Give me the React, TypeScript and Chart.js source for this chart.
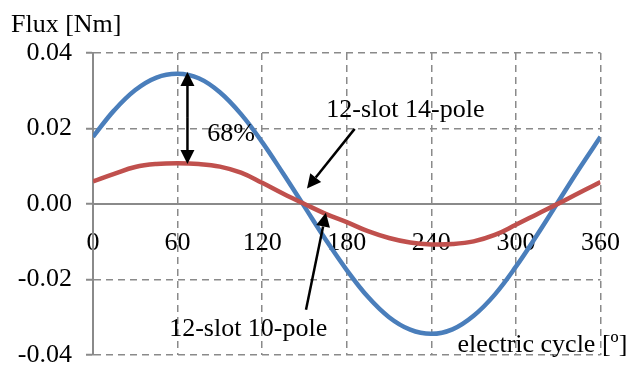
import React, { useEffect, useRef } from "react";
import { Chart, registerables } from "chart.js";

Chart.register(...registerables);

// Electrical angle samples over one electric cycle [deg]
const angles = [0, 15, 30, 45, 60, 75, 90, 105, 120, 135, 150, 165, 180, 195, 210, 225, 240, 255, 270, 285, 300, 315, 330, 345, 360];

// Flux linkage of the 12-slot 14-pole machine [Nm]
const flux14pole = [0.0178, 0.0248, 0.0302, 0.0335, 0.0345, 0.0333, 0.0296, 0.0238, 0.0164, 0.008, -0.0007, -0.0094, -0.0175, -0.0246, -0.03, -0.0333, -0.0344, -0.0332, -0.0296, -0.024, -0.0166, -0.0082, 0.0006, 0.0094, 0.0178];

// Flux linkage of the 12-slot 10-pole machine [Nm]
const flux10pole = [0.006, 0.008, 0.0098, 0.0106, 0.0108, 0.0106, 0.0099, 0.0083, 0.0056, 0.0027, 0.0, -0.0026, -0.0048, -0.0072, -0.009, -0.0102, -0.0107, -0.0106, -0.0099, -0.0082, -0.0055, -0.0027, 0.0001, 0.003, 0.0058];

const xTickStep = 60;
const yTickStep = 0.02;
const xRange = [0, 360];
const yRange = [-0.04, 0.04];

// Annotation anchors in data units: [angle, flux]
const peakArrowTop = [67, 0.035];
const peakArrowBottom = [67, 0.0106];
const peakRatioLabel = "68%";
const peakRatioPos = [81, 0.0186];
const label14 = "12-slot 14-pole";
const label14Pos = [165.5, 0.0231];
const arrow14From = [185.6, 0.0199];
const arrow14To = [151.8, 0.0041];
const label10 = "12-slot 10-pole";
const label10Pos = [54, -0.0349];
const arrow10From = [151.1, -0.028];
const arrow10To = [165.2, -0.0023];
const xAxisTitle = "electric cycle [º]";
const xAxisTitlePos = [379, -0.0391];
const yAxisTitle = "Flux [Nm]";

const BLUE = "#4a7ebb";
const RED = "#c0504d";
const GRID = "#8a8a8a";
const FONT = "'Liberation Serif', 'Times New Roman', serif";
const FONT_SIZE = 26;

function drawArrow(ctx: CanvasRenderingContext2D, x1: number, y1: number, x2: number, y2: number) {
  const headLen = 14;
  const headHalf = 7;
  const ang = Math.atan2(y2 - y1, x2 - x1);
  const bx = x2 - headLen * Math.cos(ang);
  const by = y2 - headLen * Math.sin(ang);
  ctx.beginPath();
  ctx.moveTo(x1, y1);
  ctx.lineTo(bx, by);
  ctx.stroke();
  ctx.beginPath();
  ctx.moveTo(x2, y2);
  ctx.lineTo(bx + headHalf * Math.sin(ang), by - headHalf * Math.cos(ang));
  ctx.lineTo(bx - headHalf * Math.sin(ang), by + headHalf * Math.cos(ang));
  ctx.closePath();
  ctx.fill();
}

const annotationPlugin = {
  id: "fluxAnnotations",
  afterDatasetsDraw(chart: any) {
    const { ctx, scales } = chart;
    const px = (p: number[]) => [scales.x.getPixelForValue(p[0]), scales.y.getPixelForValue(p[1])];
    ctx.save();
    ctx.strokeStyle = "#000";
    ctx.fillStyle = "#000";
    ctx.lineWidth = 2.5;

    // double-headed arrow between the two peaks
    const [tx, ty] = px(peakArrowTop);
    const [bx, by] = px(peakArrowBottom);
    const mid = (ty + by) / 2;
    drawArrow(ctx, tx, mid, tx, ty);
    drawArrow(ctx, bx, mid, bx, by);

    // callout arrows
    const a14f = px(arrow14From);
    const a14t = px(arrow14To);
    drawArrow(ctx, a14f[0], a14f[1], a14t[0], a14t[1]);
    const a10f = px(arrow10From);
    const a10t = px(arrow10To);
    drawArrow(ctx, a10f[0], a10f[1], a10t[0], a10t[1]);

    ctx.font = `${FONT_SIZE}px ${FONT}`;
    ctx.textAlign = "left";

    const pr = px(peakRatioPos);
    ctx.textBaseline = "middle";
    ctx.fillText(peakRatioLabel, pr[0], pr[1]);
    ctx.textBaseline = "alphabetic";

    const l14 = px(label14Pos);
    ctx.fillText(label14, l14[0], l14[1]);
    const l10 = px(label10Pos);
    ctx.fillText(label10, l10[0], l10[1]);

    const xt = px(xAxisTitlePos);
    ctx.textAlign = "right";
    ctx.fillText(xAxisTitle, xt[0], xt[1]);

    ctx.textAlign = "left";
    ctx.fillText(yAxisTitle, 11, 32);
    ctx.restore();
  },
};

export default function App() {
  const canvasRef = useRef<HTMLCanvasElement | null>(null);

  useEffect(() => {
    if (!canvasRef.current) return;
    const chart = new Chart(canvasRef.current, {
      type: "line",
      data: {
        labels: angles,
        datasets: [
          {
            label: label10,
            data: angles.map((a, i) => ({ x: a, y: flux10pole[i] })),
            borderColor: RED,
            borderWidth: 4.5,
            pointRadius: 0,
            tension: 0.4,
            fill: false,
          },
          {
            label: label14,
            data: angles.map((a, i) => ({ x: a, y: flux14pole[i] })),
            borderColor: BLUE,
            borderWidth: 4.5,
            pointRadius: 0,
            tension: 0.4,
            fill: false,
          },
        ],
      },
      options: {
        animation: false,
        responsive: false,
        devicePixelRatio: 1,
        layout: { padding: { top: 53, bottom: 12, left: 0, right: 41 } },
        plugins: {
          legend: { display: false },
          tooltip: { enabled: false },
        },
        scales: {
          x: {
            type: "linear",
            min: xRange[0],
            max: xRange[1],
            position: { y: 0 },
            ticks: {
              stepSize: xTickStep,
              color: "#000",
              font: { family: FONT, size: FONT_SIZE },
              padding: 24,
              maxRotation: 0,
            },
            grid: {
              color: GRID,
              lineWidth: 1.5,
              drawTicks: false,
            },
            border: { display: true, color: GRID, width: 2, dash: [7, 5] },
          },
          y: {
            type: "linear",
            min: yRange[0],
            max: yRange[1],
            ticks: {
              stepSize: yTickStep,
              color: "#000",
              font: { family: FONT, size: FONT_SIZE },
              padding: 14,
              callback: (v: any) => (Math.abs(Number(v)) < 1e-9 ? "0.00" : Number(v).toFixed(2)),
            },
            grid: {
              color: GRID,
              lineWidth: 1.5,
              tickLength: 7,
              tickBorderDash: [],
              tickColor: GRID,
              tickWidth: 2,
            },
            border: { display: true, color: GRID, width: 2, dash: [7, 5] },
            afterFit: (scale: any) => {
              scale.width = 93;
              scale.paddingTop = 0;
              scale.paddingBottom = 0;
            },
          },
        },
      },
      plugins: [annotationPlugin],
    });
    return () => chart.destroy();
  }, []);

  return (
    <div style={{ position: "fixed", left: 0, top: 0, width: 644, height: 367, background: "#fff" }}>
      <canvas ref={canvasRef} width={644} height={367} />
    </div>
  );
}
